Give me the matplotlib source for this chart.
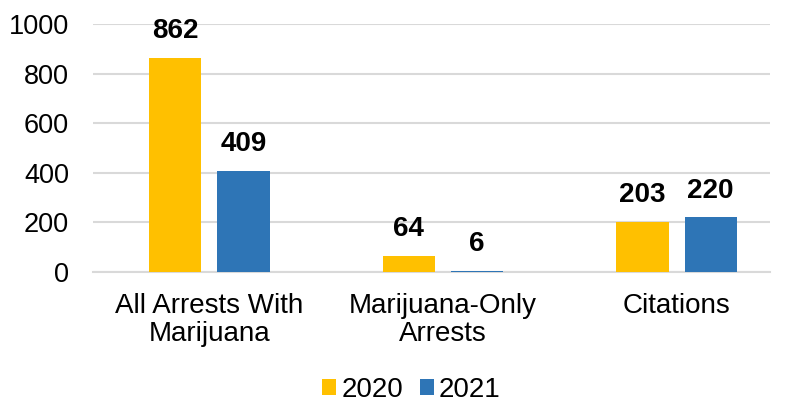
import numpy as np
import matplotlib.pyplot as plt

plt.rcParams['font.family'] = ['Liberation Sans', 'DejaVu Sans']

# Data
categories = ['All Arrests With\nMarijuana', 'Marijuana-Only\nArrests', 'Citations']
years = ['2020', '2021']
values_2020 = [862, 64, 203]
values_2021 = [409, 6, 220]
colors = ['#FFC000', '#2E75B6']

fig = plt.figure(figsize=(7.85, 4.03), dpi=100)
ax = fig.add_axes([0.118, 0.325, 0.863, 0.615])

x = np.arange(len(categories))
width = 0.223
offset = 0.146

for vals, yr, col, sgn in zip([values_2020, values_2021], years, colors, [-1, 1]):
    bars = ax.bar(x + sgn * offset, vals, width, color=col, label=yr, zorder=3)
    for b, v in zip(bars, vals):
        ax.annotate(f'{v}', (b.get_x() + b.get_width() / 2, v),
                    xytext=(0, 10), textcoords='offset points',
                    ha='center', va='bottom', fontsize=20, fontweight='bold',
                    annotation_clip=False)

ax.set_xlim(-0.5, 2.4)
ax.set_ylim(0, 1000)
ax.set_yticks(range(0, 1001, 200))
ax.set_xticks(x)
ax.set_xticklabels(categories, fontsize=20, linespacing=1.1)
ax.tick_params(axis='y', labelsize=19.5, length=0, pad=17)
ax.tick_params(axis='x', length=0, pad=15)
ax.grid(axis='y', color='#D9D9D9', linewidth=1.5, zorder=0)
for s in ['top', 'right', 'left']:
    ax.spines[s].set_visible(False)
ax.spines['bottom'].set_color('#D9D9D9')
ax.spines['bottom'].set_linewidth(1.5)

fig.legend(loc='lower center', bbox_to_anchor=(0.524, 0.0), ncol=2, frameon=False,
           fontsize=20, handlelength=0.5, handleheight=0.5, handletextpad=0.2,
           columnspacing=0.6, borderpad=0, borderaxespad=0)

fig.savefig('out.png', dpi=100)
